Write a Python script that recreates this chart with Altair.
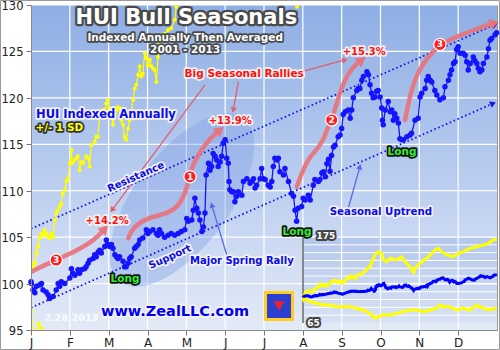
import math
import altair as alt
import pandas as pd

FONT = "DejaVu Sans"
W, H = 466, 325                 # plot area in px
PAD = {"left": 31, "top": 5, "right": 3, "bottom": 20}
X_DOM = [0, 12]                 # months since Jan 1
Y_DOM = [95, 130]               # indexed HUI

MONTH_LETTERS = ["J", "F", "M", "A", "M", "J", "J", "A", "S", "O", "N", "D"]
X_TICKS = list(range(12))
Y_TICKS = [95, 100, 105, 110, 115, 120, 125, 130]

# Average indexed HUI path: (month position, index)
HUI = [
    (0.00, 100.2), (0.01, 100.0), (0.05, 99.3), (0.10, 99.0), (0.14, 99.7), (0.22, 99.85),
    (0.27, 100.0), (0.31, 99.3), (0.39, 99.1), (0.44, 98.8), (0.48, 98.4), (0.57, 98.6),
    (0.65, 99.3), (0.70, 100.0), (0.74, 99.7), (0.78, 100.2), (0.87, 100.0), (1.00, 100.6),
    (1.04, 101.6), (1.08, 101.1), (1.13, 100.9), (1.21, 101.5), (1.25, 101.1), (1.30, 101.5),
    (1.38, 101.6), (1.42, 101.8), (1.47, 102.2), (1.51, 102.5), (1.60, 102.7), (1.64, 103.1),
    (1.68, 102.9), (1.73, 103.4), (1.77, 103.6), (1.81, 103.3), (1.90, 104.0), (1.94, 104.7),
    (1.98, 104.2), (2.03, 104.0), (2.07, 104.2), (2.11, 103.8), (2.16, 103.1), (2.20, 102.9),
    (2.24, 102.7), (2.28, 102.9), (2.37, 102.4), (2.41, 101.8), (2.45, 101.8), (2.50, 102.2),
    (2.54, 102.7), (2.58, 102.9), (2.67, 103.8), (2.71, 104.0), (2.76, 104.2), (2.80, 104.7),
    (2.88, 104.9), (2.97, 105.8), (3.01, 105.4), (3.06, 105.6), (3.14, 105.8), (3.23, 105.4),
    (3.27, 105.2), (3.31, 105.8), (3.36, 105.4), (3.44, 105.0), (3.53, 105.2), (3.61, 105.4),
    (3.70, 105.2), (3.79, 105.4), (3.87, 105.6), (3.96, 105.8),
    (4.01, 107.0), (4.05, 106.7), (4.14, 106.85), (4.18, 107.9), (4.22, 109.2), (4.27, 108.1),
    (4.31, 107.6), (4.35, 106.85), (4.40, 105.6), (4.44, 106.1), (4.48, 107.6), (4.51, 111.7),
    (4.57, 112.95), (4.61, 112.2), (4.65, 112.6), (4.69, 114.0), (4.74, 113.7), (4.78, 113.3),
    (4.82, 112.6), (4.87, 113.1), (4.91, 113.7), (4.95, 115.1), (5.00, 115.5), (5.04, 113.5),
    (5.08, 112.95), (5.10, 111.0), (5.12, 110.1), (5.17, 109.9), (5.21, 109.9), (5.25, 108.8),
    (5.30, 109.4), (5.34, 109.9), (5.43, 109.5), (5.47, 111.0), (5.56, 111.3), (5.64, 110.8),
    (5.68, 111.0), (5.73, 111.3), (5.77, 110.3), (5.81, 110.6), (5.90, 111.3), (5.94, 112.4),
    (5.98, 111.3), (6.03, 111.2), (6.11, 110.6), (6.16, 110.4), (6.20, 111.0), (6.24, 112.6),
    (6.28, 113.5), (6.33, 113.3), (6.37, 113.5), (6.41, 112.05), (6.50, 111.7), (6.54, 112.4),
    (6.63, 111.0), (6.71, 109.7), (6.76, 109.4), (6.80, 107.9), (6.84, 106.7), (6.88, 108.1),
    (6.97, 108.3), (7.01, 109.2), (7.06, 109.0), (7.14, 109.5), (7.19, 109.0), (7.27, 110.6),
    (7.31, 111.2), (7.40, 111.0), (7.44, 111.2), (7.49, 111.9), (7.53, 112.05), (7.58, 111.5),
    (7.62, 112.9), (7.66, 113.4), (7.70, 112.1), (7.74, 113.8), (7.79, 114.7), (7.83, 114.9),
    (7.91, 115.8), (7.96, 116.0), (8.00, 116.7), (8.04, 118.2), (8.09, 118.5), (8.17, 118.7),
    (8.22, 117.8), (8.26, 118.7), (8.30, 120.0), (8.39, 120.8), (8.43, 121.0), (8.47, 121.0),
    (8.52, 121.9), (8.56, 122.3), (8.65, 122.8), (8.69, 122.5), (8.73, 121.4), (8.77, 120.5),
    (8.81, 120.0), (8.86, 120.1), (8.90, 120.7), (8.94, 120.8), (8.99, 120.1), (9.03, 118.9),
    (9.05, 117.6), (9.07, 117.1), (9.12, 118.7), (9.20, 119.6), (9.25, 118.5), (9.29, 118.7),
    (9.33, 117.6), (9.37, 118.3), (9.42, 117.8), (9.46, 117.3), (9.50, 115.6), (9.55, 115.5),
    (9.59, 115.5), (9.68, 115.8), (9.76, 116.0), (9.80, 116.2), (9.89, 117.6), (9.97, 117.8),
    (10.02, 120.1), (10.06, 120.5), (10.15, 121.0), (10.19, 121.9), (10.23, 122.3), (10.28, 121.9),
    (10.32, 121.7), (10.40, 120.8), (10.45, 120.3), (10.53, 119.8), (10.62, 120.0), (10.66, 121.2),
    (10.75, 121.9), (10.79, 122.5), (10.83, 123.0), (10.88, 123.7), (10.92, 123.9), (10.96, 125.2),
    (11.00, 125.5), (11.05, 124.8), (11.13, 124.8), (11.18, 124.6), (11.22, 123.9), (11.26, 123.0),
    (11.31, 123.7), (11.39, 124.4), (11.43, 124.0), (11.48, 123.7), (11.52, 123.2), (11.56, 122.8),
    (11.61, 123.0), (11.65, 123.7), (11.74, 124.4), (11.78, 125.3), (11.82, 126.2), (11.86, 126.4),
    (11.95, 126.8), (11.99, 127.0),
]

# +1 standard deviation band
SD_HI = [
    (0.01, 102.2), (0.05, 101.8), (0.10, 102.2), (0.14, 103.3), (0.18, 104.0), (0.22, 104.9),
    (0.26, 105.4), (0.31, 105.2), (0.35, 105.8), (0.39, 105.4), (0.44, 105.0), (0.48, 104.9),
    (0.52, 105.4), (0.57, 105.0), (0.61, 106.85), (0.65, 107.6), (0.69, 107.9), (0.74, 108.3),
    (0.78, 108.6), (0.82, 109.7), (0.87, 110.1), (0.91, 111.0), (0.95, 111.3), (1.00, 112.95),
    (1.04, 114.4), (1.06, 112.95), (1.12, 113.3), (1.17, 113.5), (1.21, 113.7), (1.25, 112.2),
    (1.30, 113.1), (1.34, 112.95), (1.42, 113.7), (1.47, 113.5), (1.51, 112.6), (1.55, 114.9),
    (1.64, 115.3), (1.68, 115.8), (1.72, 115.8), (1.77, 118.0), (1.85, 118.7), (1.90, 118.7),
    (1.94, 119.4), (1.98, 119.8), (2.01, 118.9), (2.07, 118.2), (2.11, 117.1), (2.16, 118.2),
    (2.20, 118.7), (2.24, 119.0), (2.28, 118.9), (2.33, 117.6), (2.37, 117.1), (2.41, 115.8),
    (2.45, 115.5), (2.50, 116.7), (2.54, 117.6), (2.58, 118.5), (2.63, 119.8), (2.67, 121.0),
    (2.71, 121.4), (2.76, 122.5), (2.80, 123.4), (2.84, 122.3), (2.88, 122.6), (2.93, 124.8),
    (2.97, 124.3), (3.01, 123.5), (3.06, 124.1), (3.10, 123.4), (3.14, 123.2), (3.18, 123.0),
    (3.23, 121.7), (3.27, 124.4), (3.31, 126.0), (3.36, 126.2), (3.44, 126.9), (3.53, 127.3),
    (3.61, 127.5), (3.70, 128.4), (3.74, 129.8), (3.78, 130.5), (4.14, 137.0), (4.45, 152.0),
    (4.66, 156.2), (4.87, 154.1), (4.97, 145.6), (5.18, 143.4), (5.38, 147.8), (5.79, 145.6),
    (6.10, 149.8), (6.31, 143.4), (6.62, 137.0), (6.85, 129.8), (6.93, 135.0), (7.24, 141.4),
    (7.65, 147.8), (7.96, 154.1), (8.16, 158.4), (8.37, 160.5), (8.58, 156.2), (8.89, 152.0),
    (9.30, 149.8), (9.60, 154.1), (9.91, 156.2), (10.33, 160.5), (10.74, 162.6), (11.15, 164.8),
    (11.46, 166.9), (11.77, 171.2), (11.99, 172.0),
]

# -1 standard deviation band
SD_LO = [
    (0.01, 97.0), (0.06, 93.8), (0.14, 94.6), (0.20, 95.7), (0.26, 95.2), (0.35, 93.0),
    (0.43, 92.3), (0.84, 90.2), (1.26, 88.0), (1.67, 88.0), (2.08, 85.9), (2.49, 85.9),
    (2.90, 85.9), (3.31, 83.8), (3.73, 81.6), (4.14, 77.3), (4.45, 71.0), (4.66, 73.1),
    (4.97, 75.3), (5.38, 75.3), (5.79, 77.3), (6.21, 79.5), (6.62, 81.6), (7.03, 81.6),
    (7.44, 79.5), (7.85, 81.6), (8.26, 83.8), (8.47, 88.0), (8.68, 85.9), (9.09, 85.9),
    (9.50, 81.6), (9.91, 83.8), (10.33, 81.6), (10.74, 88.0), (11.15, 83.8), (11.56, 81.6),
    (11.77, 83.8), (11.99, 83.0),
]

# Seasonal channel (resistance / support) end points
RESISTANCE = [(0.0, 105.9), (11.95, 127.9)]
SUPPORT = [(0.0, 97.4), (11.9, 119.4)]

# Seasonal rally arcs
RALLY_JAN = [(0.0, 101.25), (0.18, 101.65), (0.65, 102.54), (1.21, 103.62), (1.64, 104.69), (1.90, 105.9)]
RALLY_SPRING = [(2.506, 104.88), (2.593, 105.77), (2.807, 106.67), (3.15, 107.2), (3.495, 107.57),
                (3.752, 108.11), (3.966, 109.54), (4.051, 111.15), (4.18, 112.95), (4.352, 114.2),
                (4.61, 115.65), (4.867, 116.54)]
RALLY_SUMMER = [(6.843, 110.43), (6.971, 111.88), (7.142, 113.49), (7.358, 114.39), (7.528, 115.46),
                (7.616, 116.54), (7.744, 117.62), (7.873, 119.41), (8.002, 121.2), (8.172, 122.64),
                (8.344, 123.54), (8.517, 124.08)]
RALLY_AUTUMN = [(9.632, 117.62), (9.76, 120.31), (9.933, 122.57), (10.19, 124.29), (10.53, 125.75),
                (10.96, 126.59), (11.48, 127.42), (11.93, 128.06)]
RALLY_MARKS = [(0.65, 102.54, "3"), (4.095, 111.51, "1"), (7.744, 117.62, "2"), (10.53, 125.75, "3")]

# Callout pointers: (from, to)
RED_POINTERS = [((4.48, 121.4), (2.086, 107.92)), ((5.339, 121.74), (5.21, 118.69)),
                ((6.97, 122.82), (8.087, 124.08))]
BLUE_POINTERS = [((5.04, 103.08), (4.654, 108.46)), ((8.17, 108.11), (8.47, 112.59))]

SPRING_ZONE = (3.89, 109.0)
LONG_SPOTS = [(2.421, 100.49), (6.85, 105.55), (9.554, 114.17)]
LOGO_SPOT = (6.387, 97.59)

# Inset panel (mini chart of the mean and +/-1 SD paths)
INSET_BOX = (272, 466, 232, 318)      # left, right, top, bottom inside plot, px
INSET_X = [0, 12]
INSET_Y = [65, 175]
INSET_GRID = [75, 85, 95, 105, 115, 125, 135, 145, 155, 165]

KX = W / (X_DOM[1] - X_DOM[0])        # px per month
KY = H / (Y_DOM[1] - Y_DOM[0])        # px per index point

XS = alt.Scale(domain=X_DOM, nice=False, zero=False)
YS = alt.Scale(domain=Y_DOM, nice=False, zero=False)
label_expr = "[" + ",".join("'%s'" % s for s in MONTH_LETTERS) + "][datum.value]"
X_AXIS = alt.Axis(values=X_TICKS, labelExpr=label_expr, title=None, grid=False, tickSize=5,
                  tickColor="#777777", domainColor="#8a8a8a", labelFont=FONT, labelFontSize=12,
                  labelColor="#222222", labelPadding=2, labelFlush=False, zindex=1)
Y_AXIS = alt.Axis(values=Y_TICKS, title=None, grid=False, tickSize=5, tickColor="#777777",
                  domainColor="#8a8a8a", labelFont=FONT, labelFontSize=11.5, labelColor="#222222",
                  labelPadding=3, labelFlush=False, labelOffset=1.5, zindex=1)


def df_of(pairs):
    return pd.DataFrame(pairs, columns=["m", "v"])


def X(f="m"):
    return alt.X(f"{f}:Q", scale=XS, axis=X_AXIS)


def Y(f="v"):
    return alt.Y(f"{f}:Q", scale=YS, axis=Y_AXIS)


def pos(chart, xf="m", yf="v"):
    return chart.encode(x=X(xf), y=Y(yf))


def heading(p0, p1):
    """Screen angle (deg, clockwise) of the segment p0 -> p1."""
    dx = (p1[0] - p0[0]) * KX
    dy = -(p1[1] - p0[1]) * KY
    return math.degrees(math.atan2(dy, dx)) % 360


def arrow_head(p0, p1, color, size):
    d = pd.DataFrame({"m": [p1[0]], "v": [p1[1]], "a": [heading(p0, p1)]})
    return pos(alt.Chart(d).mark_point(shape="triangle-right", filled=True, fill=color,
                                        opacity=1, size=size, strokeWidth=0)).encode(
        angle=alt.Angle("a:Q", scale=None))


def label(text, m, v, size, fill, halo=None, halo_w=3.0, angle=0, weight="bold", opacity=1.0):
    d = pd.DataFrame({"m": [m], "v": [v], "t": [text]})
    base = pos(alt.Chart(d)).encode(text="t:N")
    kw = dict(font=FONT, fontSize=size, fontWeight=weight, align="center", baseline="middle", angle=angle)
    out = []
    if halo:
        out.append(base.mark_text(fill=halo, stroke=halo, strokeWidth=halo_w, strokeJoin="round", **kw))
    out.append(base.mark_text(fill=fill, opacity=opacity, **kw))
    return out


# inset coordinates are mapped onto the main scales
il, ir, it, ib = INSET_BOX
IM_A = il / KX
IM_B = (ir - il) / KX / (INSET_X[1] - INSET_X[0])
IV_B = (ib - it) / KY / (INSET_Y[1] - INSET_Y[0])
IV_A = Y_DOM[1] - it / KY - INSET_Y[1] * IV_B


def inset(chart, fields=("m", "v")):
    calc = {}
    for f in fields:
        if f.startswith("m"):
            calc["i" + f] = f"{IM_A} + {IM_B} * (datum.{f} - {INSET_X[0]})"
        else:
            calc["i" + f] = f"{IV_A} + {IV_B} * datum.{f}"
    return chart.transform_calculate(**calc)


layers = []
one_row = pd.DataFrame({"k": [0]})

# thin frame round the whole picture
layers.append(alt.Chart(one_row).mark_rect(fill=None, stroke="#9a9a9a", strokeWidth=1).encode(
    x=alt.value(-PAD["left"] + 0.5), x2=alt.value(W + PAD["right"] - 0.5),
    y=alt.value(-PAD["top"] + 0.5), y2=alt.value(H + PAD["bottom"] - 0.5)))

# plot background with vertical gradient
bg_grad = alt.Gradient(gradient="linear", x1=0, y1=0, x2=0, y2=1,
                       stops=[alt.GradientStop(offset=0, color="#8eaee4"),
                              alt.GradientStop(offset=0.5, color="#b7cbef"),
                              alt.GradientStop(offset=1, color="#e3eaf7")])
bg = alt.Chart(pd.DataFrame({"m": [X_DOM[0]], "m2": [X_DOM[1]], "v": [Y_DOM[0]], "v2": [Y_DOM[1]]}))
layers.append(pos(bg.mark_rect(fill=bg_grad)).encode(x2="m2:Q", y2="v2:Q"))

# inset panel background (lets the month grid show through)
inset_grad = alt.Gradient(gradient="linear", x1=0, y1=0, x2=0, y2=1,
                          stops=[alt.GradientStop(offset=0, color="#b3c7ec"),
                                 alt.GradientStop(offset=1, color="#d8e2f4")])
ibox = pd.DataFrame({"m": [INSET_X[0]], "m2": [INSET_X[1]], "v": [INSET_Y[0]], "v2": [INSET_Y[1]]})
layers.append(pos(inset(alt.Chart(ibox), ("m", "m2", "v", "v2")).mark_rect(fill=inset_grad),
                  "im", "iv").encode(x2="im2:Q", y2="iv2:Q"))

# white grid
layers.append(alt.Chart(pd.DataFrame({"m": X_TICKS[1:]})).mark_rule(color="white", strokeWidth=1.2)
              .encode(x=X()))
layers.append(alt.Chart(pd.DataFrame({"v": Y_TICKS[1:]})).mark_rule(color="white", strokeWidth=1.2)
              .encode(y=Y()))

# shaded spring-rally zone
ellipse_path = "M -1 0 A 1 0.46 0 1 1 1 0 A 1 0.46 0 1 1 -1 0 Z"
layers.append(pos(alt.Chart(df_of([SPRING_ZONE])).mark_point(
    shape=ellipse_path, filled=True, fill="#7f9de6", opacity=0.38, size=205 * 205, angle=307, strokeWidth=0)))

# dotted trend channel
for line in (RESISTANCE, SUPPORT):
    layers.append(pos(alt.Chart(df_of(line)).mark_line(color="#1515e8", strokeWidth=1.8,
                                                          strokeDash=[1.6, 2.6])))
    layers.append(arrow_head(line[0], line[1], "#1515e8", 45))

# +1 SD path on the main scale (runs off the top)
sd_hi = df_of(SD_HI)
layers.append(pos(alt.Chart(sd_hi).mark_line(color="#ffff00", strokeWidth=1.2, clip=True)))
layers.append(pos(alt.Chart(sd_hi).mark_circle(color="#ffff00", size=16, opacity=1, clip=True)))
sd_lo_main = df_of(SD_LO[:8])
layers.append(pos(alt.Chart(sd_lo_main).mark_line(color="#ffff00", strokeWidth=1.2, clip=True)))
layers.append(pos(alt.Chart(sd_lo_main).mark_circle(color="#ffff00", size=16, opacity=1, clip=True)))

# rally arcs
RALLY_COLOR = "#e8737c"
for arc in (RALLY_JAN, RALLY_SPRING, RALLY_SUMMER, RALLY_AUTUMN):
    layers.append(pos(alt.Chart(df_of(arc)).mark_line(color=RALLY_COLOR, strokeWidth=4.5, opacity=0.92,
                                                         interpolate="basis", strokeCap="round", clip=True)))
    layers.append(arrow_head(arc[-2], arc[-1], RALLY_COLOR, 120))

# thin callout pointers
for p0, p1 in RED_POINTERS:
    layers.append(pos(alt.Chart(df_of([p0, p1])).mark_line(color="#e0606e", strokeWidth=1.3)))
    layers.append(arrow_head(p0, p1, "#e0606e", 40))
for p0, p1 in BLUE_POINTERS:
    layers.append(pos(alt.Chart(df_of([p0, p1])).mark_line(color="#5b6ae6", strokeWidth=1.3)))
    layers.append(arrow_head(p0, p1, "#5b6ae6", 40))

# the mean path
hui = df_of(HUI)
layers.append(pos(alt.Chart(hui).mark_line(color="#1414ff", strokeWidth=1.3)))
layers.append(pos(alt.Chart(hui).mark_circle(color="#1414ff", size=30, opacity=1)))

# numbered rally markers
marks = pd.DataFrame(RALLY_MARKS, columns=["m", "v", "t"])
layers.append(pos(alt.Chart(marks).mark_circle(size=150, fill="#ff1f1f", stroke="white", strokeWidth=1.2, opacity=1)))
layers.append(pos(alt.Chart(marks).mark_text(font=FONT, fontSize=9, fontWeight="bold", color="white",
                                              baseline="middle", align="center")).encode(text="t:N"))

# text callouts
HALO_DARK = "#4a4a4a"
layers += label("HUI Bull Seasonals", 4.0, 128.6, 21, "white", HALO_DARK, 4.5)
layers += label("Indexed Annually Then Averaged", 3.97, 126.45, 10.5, "white", HALO_DARK, 3.5)
layers += label("2001 - 2013", 3.97, 125.15, 10.5, "white", HALO_DARK, 3.5)
layers += label("HUI Indexed Annually", 1.93, 118.15, 11.5, "#0a0ae8", "#f2f2f2", 3.5)
layers += label("+/- 1 SD", 0.73, 116.8, 10.5, "#ffff00", "#333333", 3.5)
layers += label("Big Seasonal Rallies", 5.49, 122.62, 10.5, "#ff1010", "#f2f2f2", 3.5)
layers += label("+15.3%", 8.58, 124.9, 10, "#ff1010", "#f2f2f2", 3.5)
layers += label("+13.9%", 5.13, 117.51, 10, "#ff1010", "#f2f2f2", 3.5)
layers += label("+14.2%", 1.96, 106.79, 10, "#ff1010", "#f2f2f2", 3.5)
layers += label("Resistance", 2.70, 111.48, 10, "#0a0ae8", "#f2f2f2", 3.5, angle=336)
layers += label("Support", 3.58, 102.86, 10, "#0a0ae8", "#f2f2f2", 3.5, angle=336)
layers += label("Major Spring Rally", 5.43, 102.43, 10, "#0a0ae8", "#f2f2f2", 3.5)
layers += label("Seasonal Uptrend", 9.01, 107.71, 10.2, "#0a0ae8", "#f2f2f2", 3.5)
for m, v in LONG_SPOTS:
    layers += label("Long", m, v, 10.5, "#33ee33", "#111111", 3.5)
layers += label("www.ZealLLC.com", 3.71, 96.94, 14.5, "#0000ee", "#f2f2f2", 3.5)
layers += label("2.28.2013", 1.04, 96.29, 9.5, "white", None, opacity=0.9)

# logo badge
logo = df_of([LOGO_SPOT])
layers.append(pos(alt.Chart(logo).mark_point(shape="square", size=27 * 27, filled=True, fill="#2b3fd0",
                                             stroke="#ffcc22", strokeWidth=3, opacity=1)))
layers.append(pos(alt.Chart(logo).mark_point(shape="triangle-down", size=120, filled=True, fill="#e8242a",
                                             opacity=1, strokeWidth=0)))

# ---- inset: mean and +/-1 SD on their own range ----
grid_df = pd.DataFrame({"v": INSET_GRID, "m": INSET_X[0], "m2": INSET_X[1]})
layers.append(pos(inset(alt.Chart(grid_df), ("m", "m2", "v")).mark_rule(color="white", strokeWidth=1),
                  "im", "iv").encode(x2="im2:Q"))
edge_df = pd.DataFrame({"m": [INSET_X[0]], "v": [INSET_Y[0]], "v2": [INSET_Y[1]]})
layers.append(pos(inset(alt.Chart(edge_df), ("m", "v", "v2")).mark_rule(color="#666666", strokeWidth=1.5),
                  "im", "iv").encode(y2="iv2:Q"))
for series, color in ((SD_HI, "#ffff00"), (SD_LO, "#ffff00"), (HUI, "#0000ff")):
    layers.append(pos(inset(alt.Chart(df_of(series))).mark_line(color=color, strokeWidth=3), "im", "iv"))
for txt, m, v in (("175", 1.42, 176.9), ("65", 0.65, 65.6)):
    d = pd.DataFrame({"m": [m], "v": [v], "t": [txt]})
    base = pos(inset(alt.Chart(d)), "im", "iv").encode(text="t:N")
    kw = dict(font=FONT, fontSize=9, fontWeight="bold", align="center", baseline="middle")
    layers.append(base.mark_text(fill="#444444", stroke="#444444", strokeWidth=4, strokeJoin="round", **kw))
    layers.append(base.mark_text(fill="white", **kw))

chart = (
    alt.layer(*layers)
    .properties(width=W, height=H, background="white",
                autosize=alt.AutoSizeParams(type="none"), padding=PAD)
    .configure_view(stroke="#999999", strokeWidth=1)
)

chart.save("out.html", embed_options={"renderer": "svg", "actions": False})
